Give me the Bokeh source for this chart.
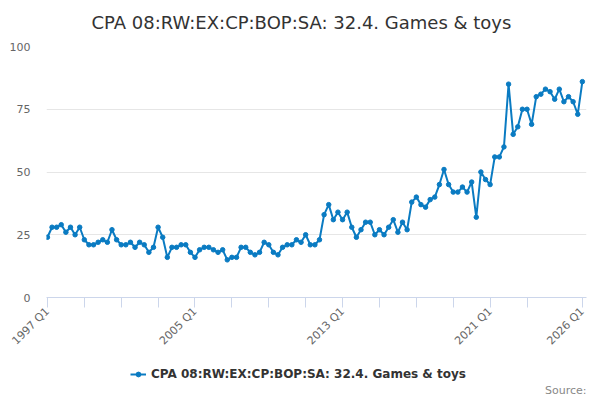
import math
from bokeh.plotting import figure
from bokeh.layouts import column
from bokeh.models import Range1d, FixedTicker, Legend, LegendItem, Label
from bokeh.embed import file_html
from bokeh.resources import INLINE

# quarterly categories 1997 Q1 .. 2026 Q1
quarters = [f"{y} Q{q}" for y in range(1997, 2027) for q in (1, 2, 3, 4)][:117]

values = [
    24, 28, 28, 29, 26, 28, 25, 28, 23, 21, 21, 22, 23, 22, 27, 23,
    21, 21, 22, 20, 22, 21, 18, 20, 28, 24, 16, 20, 20, 21, 21, 18,
    16, 19, 20, 20, 19, 18, 19, 15, 16, 16, 20, 20, 18, 17, 18, 22,
    21, 18, 17, 20, 21, 21, 23, 22, 25, 21, 21, 23, 33, 37, 31, 34,
    31, 34, 28, 24, 27, 30, 30, 25, 27, 25, 28, 31, 26, 30, 27, 38,
    40, 37, 36, 39, 40, 45, 51, 45, 42, 42, 44, 42, 46, 32, 50, 47,
    45, 56, 56, 60, 85, 65, 68, 75, 75, 69, 80, 81, 83, 82, 79, 83,
    78, 80, 78, 73, 86,
]

series_name = "CPA 08:RW:EX:CP:BOP:SA: 32.4. Games & toys"
title_text = series_name
source_text = "Source:"
y_ticks = [0, 25, 50, 75, 100]
tick_idx = list(range(0, 105, 8)) + [116]
label_idx = [0, 32, 64, 96, 116]

color = "#0a7bc2"
font = "DejaVu Sans"

x = list(range(len(values)))


def strip(height):
    # plain band of the page; in the column its frame lines up with the chart's (46..586)
    s = figure(width=600, height=height, output_backend="svg", toolbar_location=None,
               x_range=Range1d(-0.2, 116.9), y_range=Range1d(-2, -1),
               min_border=0, outline_line_color=None)
    s.axis.visible = False
    s.grid.visible = False
    return s


# title band
t = strip(36)
t.add_layout(Label(x=45, y=14, x_units="screen", y_units="screen", text=title_text,
                   text_align="left", text_baseline="alphabetic", text_font=font,
                   text_font_size="18px", text_color="#333333"))

# chart
p = figure(width=600, height=319, output_backend="svg", toolbar_location=None,
           x_range=Range1d(-0.2, 116.9), y_range=Range1d(0, 100),
           min_border_left=46, min_border_right=14, min_border_top=10,
           min_border_bottom=58, outline_line_color=None,
           background_fill_color="white")

line_r = p.line(x, values, line_color=color, line_width=2)
dot_r = p.scatter(x, values, size=4.5, fill_color=color, line_color=color)

p.yaxis.ticker = FixedTicker(ticks=y_ticks)
p.yaxis.axis_line_color = None
p.yaxis.major_tick_line_color = None
p.yaxis.major_tick_out = 0
p.yaxis.minor_tick_line_color = None
p.yaxis.major_label_standoff = 16
p.yaxis.major_label_text_font = font
p.yaxis.major_label_text_font_size = "11px"
p.yaxis.major_label_text_color = "#666666"

p.xaxis.ticker = FixedTicker(ticks=tick_idx)
p.xaxis.major_label_overrides = {i: (quarters[i] if i in label_idx else "") for i in tick_idx}
p.xaxis.axis_line_color = "#ccd6eb"
p.xaxis.major_tick_line_color = "#ccd6eb"
p.xaxis.major_tick_out = 10
p.xaxis.major_tick_in = 0
p.xaxis.minor_tick_line_color = None
p.xaxis.major_label_orientation = math.pi / 4
p.xaxis.major_label_standoff = 2
p.xaxis.major_label_text_font = font
p.xaxis.major_label_text_font_size = "11px"
p.xaxis.major_label_text_color = "#666666"

p.xgrid.grid_line_color = None
p.ygrid.grid_line_color = "#e6e6e6"
p.ygrid.ticker = FixedTicker(ticks=y_ticks[1:])

# legend and source band; the series is drawn out of its view, only its legend shows
f = strip(45)
leg_line = f.line(x, values, line_color=color, line_width=2)
leg_dot = f.scatter(x, values, size=4.5, fill_color=color, line_color=color)

legend = Legend(items=[LegendItem(label=series_name, renderers=[leg_line, leg_dot])],
                orientation="horizontal", location=(84, 19),
                border_line_color=None, background_fill_alpha=0,
                label_text_font=font, label_text_font_size="12px",
                label_text_font_style="bold", label_text_color="#333333",
                glyph_width=16, glyph_height=12, label_standoff=5,
                padding=0, margin=0)
f.add_layout(legend, "center")

f.add_layout(Label(x=540, y=10, x_units="screen", y_units="screen", text=source_text,
                   text_align="right", text_baseline="middle", text_font=font,
                   text_font_size="11px", text_color="#888888"))

open("out.html", "w").write(file_html(column(t, p, f, spacing=0), INLINE))
